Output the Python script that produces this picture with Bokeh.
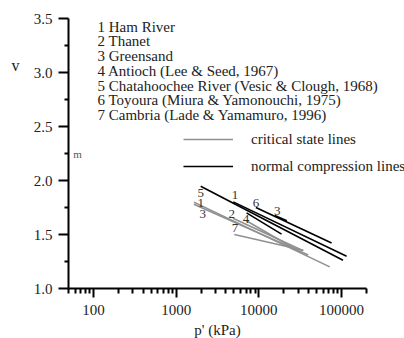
import math
from bokeh.plotting import figure
from bokeh.models import (Range1d, FixedTicker, NumeralTickFormatter, Label,
                          Legend, LegendItem, ColumnDataSource)
from bokeh.core.properties import value
from bokeh.embed import file_html
from bokeh.resources import INLINE

FONT = "Liberation Serif"

# ---- data ----
x_ticks = [100, 1000, 10000, 100000]
y_ticks = [1.0, 1.5, 2.0, 2.5, 3.0, 3.5]
y_minor = [1.25, 1.75, 2.25, 2.75, 3.25]

sands = ["1 Ham River", "2 Thanet", "3 Greensand", "4 Antioch (Lee & Seed, 1967)",
         "5 Chatahoochee River (Vesic & Clough, 1968)",
         "6 Toyoura (Miura & Yamonouchi, 1975)", "7 Cambria (Lade & Yamamuro, 1996)"]

# critical state lines (grey)
csl_id = ["1", "3", "2", "4", "7"]
csl_p0 = [1640, 1640, 4860, 6980, 5050]
csl_v0 = [1.80, 1.78, 1.65, 1.63, 1.50]
csl_p1 = [72000, 39500, 34400, 31300, 34400]
csl_v1 = [1.20, 1.31, 1.35, 1.34, 1.355]

# normal compression lines (black)
ncl_id = ["5", "1", "6", "3", "4"]
ncl_p0 = [1980, 4900, 9200, 15600, 7100]
ncl_v0 = [1.947, 1.802, 1.75, 1.675, 1.70]
ncl_p1 = [104000, 115000, 75700, 21800, 18800]
ncl_v1 = [1.262, 1.299, 1.422, 1.628, 1.503]

# line number labels
num_text = ["5", "1", "1", "3", "6", "3", "2", "4", "7"]
num_p = [1982, 5140, 1982, 2094, 9230, 16670, 4690, 6980, 5140]
num_v = [1.880, 1.864, 1.793, 1.688, 1.793, 1.718, 1.694, 1.639, 1.556]

X_MIN, X_MAX = 50, 200000
# the plot frame runs to the right edge so that the long texts are not cut;
# the axis itself stops at X_MAX through its bounds
AXIS_PX, FRAME_PX = 298, 336
span = (math.log10(X_MAX) - math.log10(X_MIN)) * FRAME_PX / AXIS_PX
x_end = 10 ** (math.log10(X_MIN) + span)

p = figure(width=404, height=338, x_axis_type="log",
           x_range=Range1d(X_MIN, x_end), y_range=Range1d(1.0, 3.5),
           output_backend="svg", toolbar_location=None,
           min_border_left=68, min_border_right=0,
           min_border_top=18, min_border_bottom=50)
p.outline_line_color = None
p.grid.visible = False
p.background_fill_color = "white"
p.border_fill_color = "white"

x_minor = [m * 10 ** e for e in range(1, 6) for m in range(2, 10)
           if X_MIN <= m * 10 ** e <= X_MAX]
xa = p.xaxis[0]
xa.bounds = (X_MIN, X_MAX)
xa.ticker = FixedTicker(ticks=x_ticks, minor_ticks=x_minor)
xa.formatter = NumeralTickFormatter(format="0")
xa.major_tick_in = 0
xa.major_tick_out = 9
xa.minor_tick_in = 0
xa.minor_tick_out = 5
xa.major_label_standoff = 7
ya = p.yaxis[0]
ya.ticker = FixedTicker(ticks=y_ticks, minor_ticks=y_minor)
ya.formatter = NumeralTickFormatter(format="0.0")
ya.major_tick_in = 0
ya.major_tick_out = 10
ya.minor_tick_in = 0
ya.minor_tick_out = 4
ya.major_label_standoff = 6
for ax in (xa, ya):
    ax.axis_line_width = 2
    ax.major_tick_line_width = 2
    ax.minor_tick_line_width = 2
    ax.axis_line_color = "black"
    ax.major_tick_line_color = "black"
    ax.minor_tick_line_color = "black"
    ax.major_label_text_font = FONT
    ax.major_label_text_font_size = "15px"
    ax.major_label_text_color = "#222222"

csl_src = ColumnDataSource(dict(xs=[[a, b] for a, b in zip(csl_p0, csl_p1)],
                                ys=[[a, b] for a, b in zip(csl_v0, csl_v1)]))
ncl_src = ColumnDataSource(dict(xs=[[a, b] for a, b in zip(ncl_p0, ncl_p1)],
                                ys=[[a, b] for a, b in zip(ncl_v0, ncl_v1)]))
r_csl = p.multi_line("xs", "ys", source=csl_src, line_color="#909090", line_width=1.6)
r_ncl = p.multi_line("xs", "ys", source=ncl_src, line_color="black", line_width=1.6)

num_src = ColumnDataSource(dict(x=num_p, y=num_v, t=num_text))
p.text("x", "y", text="t", source=num_src, text_font=value(FONT),
       text_font_size="13px", text_align="center", text_baseline="middle",
       text_color="#333333")

legend = Legend(items=[LegendItem(label="critical state lines", renderers=[r_csl]),
                       LegendItem(label="normal compression lines", renderers=[r_ncl])],
                location=(115, 112), glyph_width=50, glyph_height=20,
                label_height=20, spacing=7, padding=0, margin=0,
                label_standoff=18, border_line_color=None,
                background_fill_alpha=0, label_text_font=FONT,
                label_text_font_size="15px", label_text_color="#222222")
p.add_layout(legend)

# texts (screen units relative to plot frame: left=68, bottom=288)
for i, s in enumerate(sands):
    p.add_layout(Label(x=29, y=288 - (26 + 14.75 * i), x_units="screen", y_units="screen",
                       text=s, text_font=FONT, text_font_size="15px",
                       text_baseline="middle", text_color="#222222"))
p.add_layout(Label(x=77 - 68, y=288 - 153, x_units="screen", y_units="screen",
                   text="m", text_font=FONT, text_font_size="11px",
                   text_align="center", text_baseline="middle", text_color="#555555"))
# axis titles, put in the side panels so they are not clipped by the frame
p.add_layout(Label(x=15, y=3.065, x_units="canvas", y_units="data",
                   text="v", text_font=FONT, text_font_size="16px",
                   text_align="center", text_baseline="middle", text_color="#222222"),
             "left")
p.add_layout(Label(x=217, y=1 - (329 - 288) / 108, x_units="canvas", y_units="data",
                   text="p' (kPa)", text_font=FONT, text_font_size="15px",
                   text_align="center", text_baseline="middle", text_color="#222222"),
             "below")

open("out.html", "w").write(file_html(p, INLINE))
